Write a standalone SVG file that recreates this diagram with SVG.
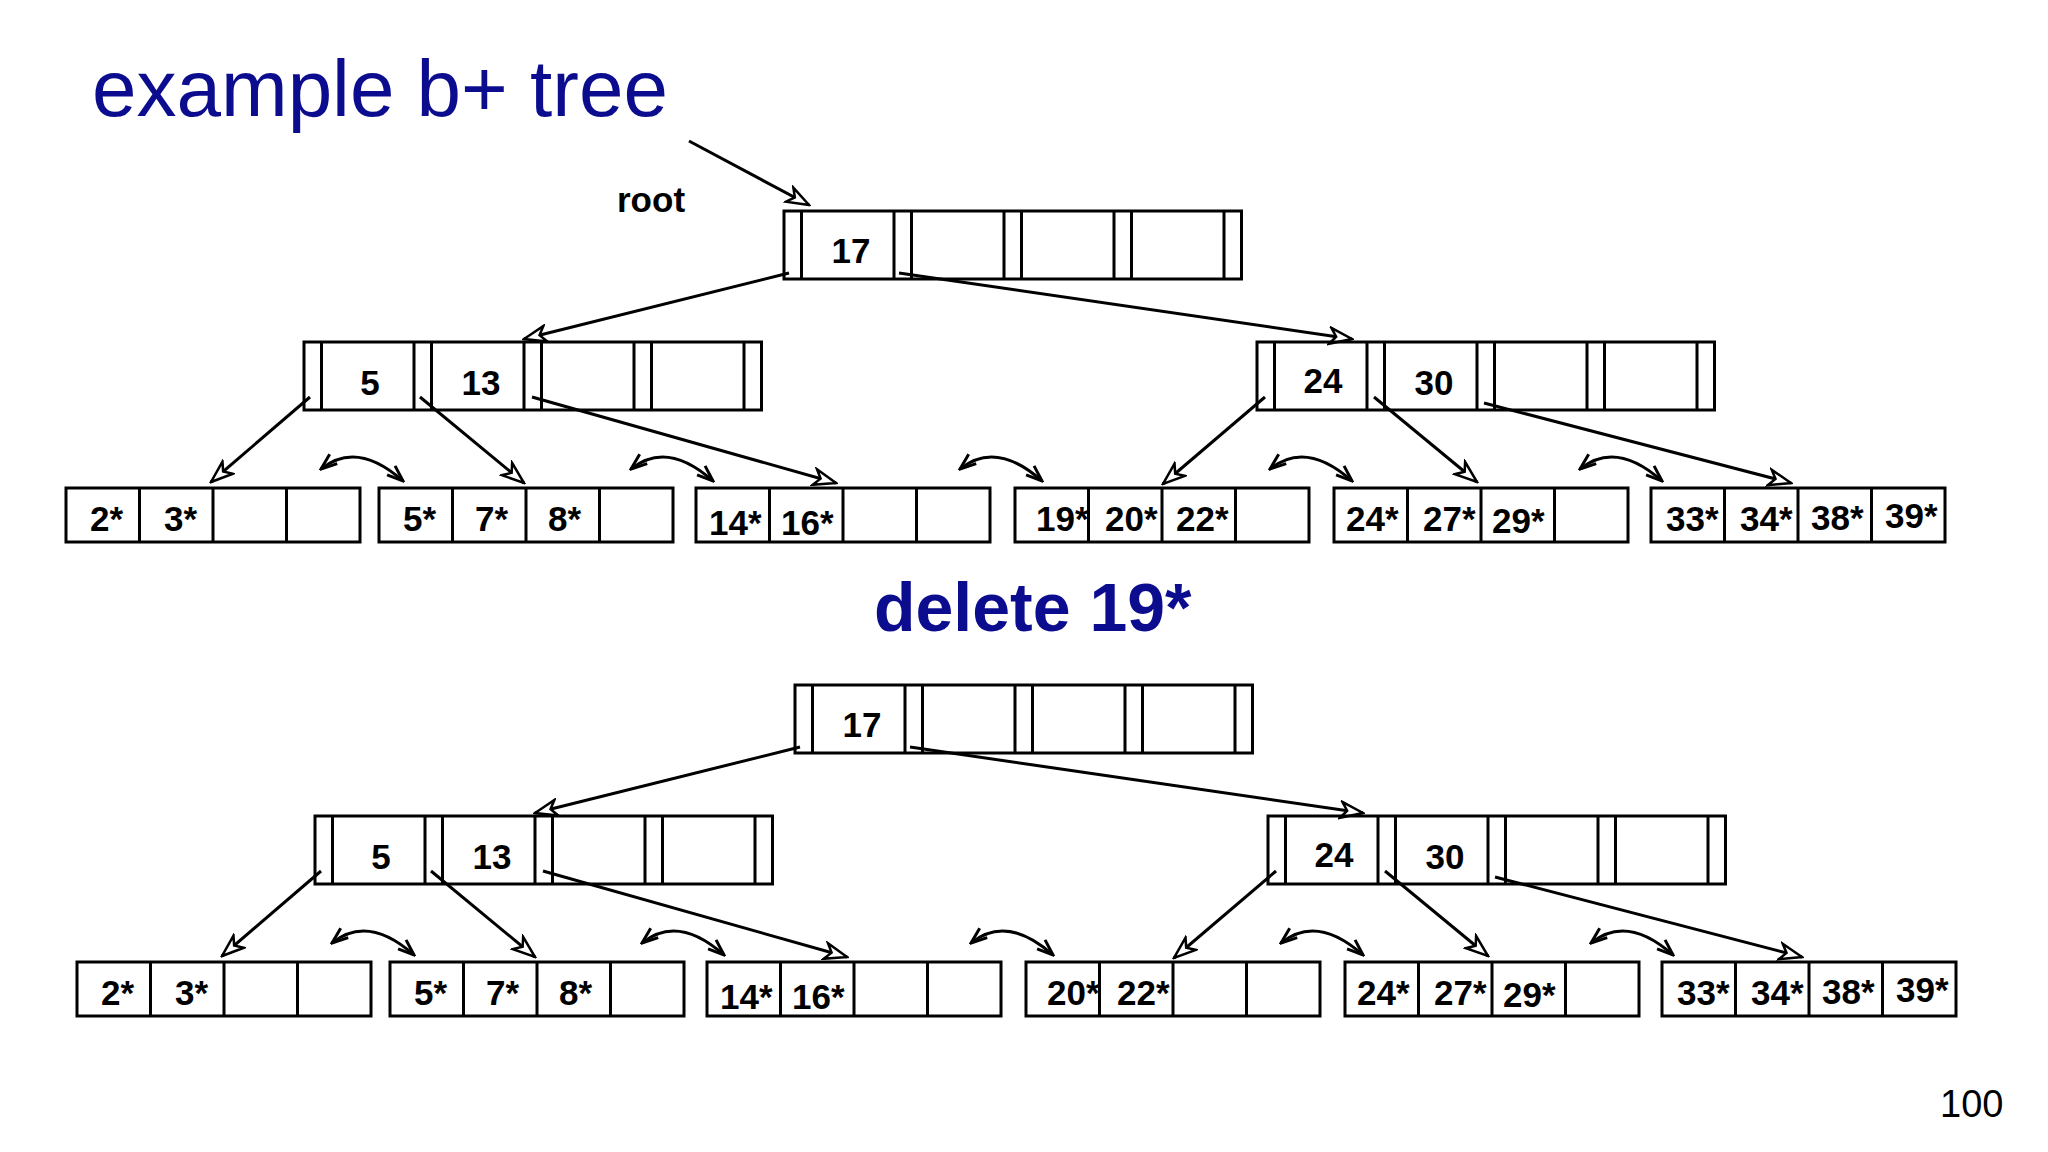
<svg xmlns="http://www.w3.org/2000/svg" width="2048" height="1152" viewBox="0 0 2048 1152">
<defs>
<style>
.box{fill:none;stroke:#000;stroke-width:3}
.ln{fill:none;stroke:#000;stroke-width:3}
.k{font-family:"Liberation Sans",Arial,sans-serif;font-weight:bold;font-size:35px;fill:#000}
.km{font-family:"Liberation Sans",Arial,sans-serif;font-weight:bold;font-size:35px;fill:#000;text-anchor:middle}
.t{font-family:"Liberation Sans",Arial,sans-serif;fill:#0c0c8f}
</style>
<marker id="ah" markerUnits="userSpaceOnUse" markerWidth="26" markerHeight="20" viewBox="0 0 26 20" refX="24" refY="10" orient="auto">
<path d="M2,2 L24,10 L2,18 L8,10 z" fill="#fff" stroke="#000" stroke-width="2.5"/>
</marker>
<marker id="as" markerUnits="userSpaceOnUse" markerWidth="20" markerHeight="16" viewBox="0 0 20 16" refX="18" refY="8" orient="auto-start-reverse">
<path d="M2,2 L18,8 L2,14" fill="none" stroke="#000" stroke-width="3"/>
</marker>
<g id="inode">
<rect class="box" x="0" y="0" width="457.5" height="68"/>
<path class="ln" d="M17.5,0V68M110,0V68M127.5,0V68M220,0V68M237.5,0V68M330,0V68M347.5,0V68M440,0V68"/>
</g>
<g id="leaf">
<rect class="box" x="0" y="0" width="294" height="54"/>
<path class="ln" d="M73.5,0V54M147,0V54M220.5,0V54"/>
</g>
</defs>
<rect width="2048" height="1152" fill="#fff"/>
<text class="t" x="92" y="116" font-size="80">example b+ tree</text>
<text class="t" x="874" y="631" font-size="68" font-weight="bold">delete 19*</text>
<text x="1940" y="1117" font-family="Liberation Sans,Arial,sans-serif" font-size="38" fill="#000">100</text>
<text class="k" x="617" y="212" font-size="38">root</text>

<g id="tree1">
<g id="connectors1">
<path class="ln" d="M689,141L809,205" marker-end="url(#ah)"/>
<path class="ln" d="M789,273L524,339" marker-end="url(#ah)"/>
<path class="ln" d="M899,273L1352,339" marker-end="url(#ah)"/>
<path class="ln" d="M310,397L211,482" marker-end="url(#ah)"/>
<path class="ln" d="M420,397L524,483" marker-end="url(#ah)"/>
<path class="ln" d="M532,397L836,483" marker-end="url(#ah)"/>
<path class="ln" d="M1265,397L1163,484" marker-end="url(#ah)"/>
<path class="ln" d="M1374,397L1477,482" marker-end="url(#ah)"/>
<path class="ln" d="M1484,403L1791,483" marker-end="url(#ah)"/>
<path class="ln" d="M321,469Q357,440 403,481" marker-start="url(#as)" marker-end="url(#as)"/>
<path class="ln" d="M631,469Q667,440 713,481" marker-start="url(#as)" marker-end="url(#as)"/>
<path class="ln" d="M960,469Q996,440 1042,481" marker-start="url(#as)" marker-end="url(#as)"/>
<path class="ln" d="M1270,469Q1306,440 1352,481" marker-start="url(#as)" marker-end="url(#as)"/>
<path class="ln" d="M1580,469Q1616,440 1662,481" marker-start="url(#as)" marker-end="url(#as)"/>
</g>
<g id="t1-root" transform="translate(784,211)"><use href="#inode"/><text class="km" x="67" y="52">17</text></g>
<g id="t1-n1" transform="translate(304,342)"><use href="#inode"/><text class="km" x="66" y="53">5</text><text class="km" x="177" y="53">13</text></g>
<g id="t1-n2" transform="translate(1257,342)"><use href="#inode"/><text class="km" x="66" y="51">24</text><text class="km" x="177" y="53">30</text></g>
<g id="t1-l1" transform="translate(66,488)"><use href="#leaf"/><text class="k" x="24" y="43">2*</text><text class="k" x="98" y="43">3*</text></g>
<g id="t1-l2" transform="translate(379,488)"><use href="#leaf"/><text class="k" x="24" y="43">5*</text><text class="k" x="96" y="43">7*</text><text class="k" x="169" y="43">8*</text></g>
<g id="t1-l3" transform="translate(696,488)"><use href="#leaf"/><text class="k" x="13" y="47">14*</text><text class="k" x="85" y="47">16*</text></g>
<g id="t1-l4" transform="translate(1015,488)"><use href="#leaf"/><text class="k" x="21" y="43">19*</text><text class="k" x="90" y="43">20*</text><text class="k" x="161" y="43">22*</text></g>
<g id="t1-l5" transform="translate(1334,488)"><use href="#leaf"/><text class="k" x="12" y="43">24*</text><text class="k" x="89" y="43">27*</text><text class="k" x="158" y="45">29*</text></g>
<g id="t1-l6" transform="translate(1651,488)"><use href="#leaf"/><text class="k" x="15" y="43">33*</text><text class="k" x="89" y="43">34*</text><text class="k" x="160" y="42">38*</text><text class="k" x="234" y="40">39*</text></g>
</g>

<g id="tree2" transform="translate(11,474)">
<g id="connectors2">
<path class="ln" d="M789,273L524,339" marker-end="url(#ah)"/>
<path class="ln" d="M899,273L1352,339" marker-end="url(#ah)"/>
<path class="ln" d="M310,397L211,482" marker-end="url(#ah)"/>
<path class="ln" d="M420,397L524,483" marker-end="url(#ah)"/>
<path class="ln" d="M532,397L836,483" marker-end="url(#ah)"/>
<path class="ln" d="M1265,397L1163,484" marker-end="url(#ah)"/>
<path class="ln" d="M1374,397L1477,482" marker-end="url(#ah)"/>
<path class="ln" d="M1484,403L1791,483" marker-end="url(#ah)"/>
<path class="ln" d="M321,469Q357,440 403,481" marker-start="url(#as)" marker-end="url(#as)"/>
<path class="ln" d="M631,469Q667,440 713,481" marker-start="url(#as)" marker-end="url(#as)"/>
<path class="ln" d="M960,469Q996,440 1042,481" marker-start="url(#as)" marker-end="url(#as)"/>
<path class="ln" d="M1270,469Q1306,440 1352,481" marker-start="url(#as)" marker-end="url(#as)"/>
<path class="ln" d="M1580,469Q1616,440 1662,481" marker-start="url(#as)" marker-end="url(#as)"/>
</g>
<g id="t2-root" transform="translate(784,211)"><use href="#inode"/><text class="km" x="67" y="52">17</text></g>
<g id="t2-n1" transform="translate(304,342)"><use href="#inode"/><text class="km" x="66" y="53">5</text><text class="km" x="177" y="53">13</text></g>
<g id="t2-n2" transform="translate(1257,342)"><use href="#inode"/><text class="km" x="66" y="51">24</text><text class="km" x="177" y="53">30</text></g>
<g id="t2-l1" transform="translate(66,488)"><use href="#leaf"/><text class="k" x="24" y="43">2*</text><text class="k" x="98" y="43">3*</text></g>
<g id="t2-l2" transform="translate(379,488)"><use href="#leaf"/><text class="k" x="24" y="43">5*</text><text class="k" x="96" y="43">7*</text><text class="k" x="169" y="43">8*</text></g>
<g id="t2-l3" transform="translate(696,488)"><use href="#leaf"/><text class="k" x="13" y="47">14*</text><text class="k" x="85" y="47">16*</text></g>
<g id="t2-l4" transform="translate(1015,488)"><use href="#leaf"/><text class="k" x="21" y="43">20*</text><text class="k" x="91" y="43">22*</text></g>
<g id="t2-l5" transform="translate(1334,488)"><use href="#leaf"/><text class="k" x="12" y="43">24*</text><text class="k" x="89" y="43">27*</text><text class="k" x="158" y="45">29*</text></g>
<g id="t2-l6" transform="translate(1651,488)"><use href="#leaf"/><text class="k" x="15" y="43">33*</text><text class="k" x="89" y="43">34*</text><text class="k" x="160" y="42">38*</text><text class="k" x="234" y="40">39*</text></g>
</g>
</svg>
